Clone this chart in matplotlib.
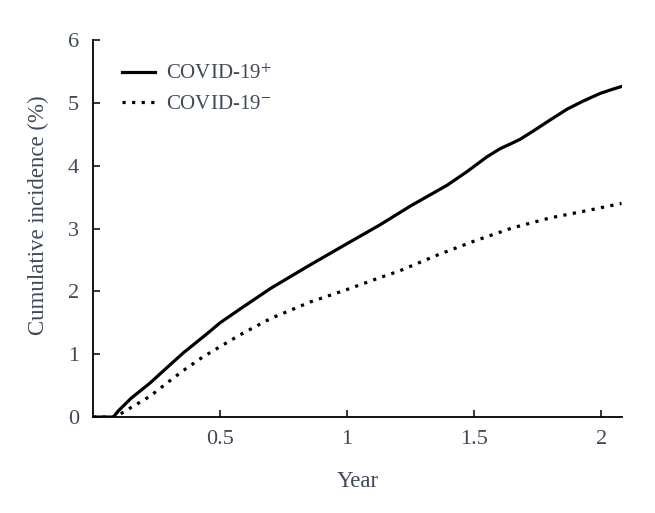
""" Cumulative incidence curves, COVID-19 positive vs negative. """

import matplotlib
matplotlib.use("Agg")
import matplotlib.pyplot as plt

plt.rcParams['font.family'] = ['Liberation Serif', 'DejaVu Serif']
plt.rcParams['mathtext.fontset'] = 'stix'

TEXT = '#404858'

# years since index, cumulative incidence (%)
pos_years = [0, 0.08, 0.1, 0.15, 0.224, 0.3, 0.355, 0.45, 0.5, 0.579, 0.7, 0.854,
             1.0, 1.13, 1.25, 1.394, 1.47, 1.55, 1.602, 1.65, 1.681, 1.732, 1.8,
             1.866, 1.93, 1.996, 2.04, 2.08]
pos_inc = [0, 0, 0.1, 0.3, 0.54, 0.82, 1.02, 1.33, 1.50, 1.72, 2.05, 2.42,
           2.76, 3.06, 3.36, 3.69, 3.90, 4.14, 4.27, 4.36, 4.42, 4.55, 4.73,
           4.90, 5.03, 5.15, 5.21, 5.26]

neg_years = [0, 0.09, 0.12, 0.17, 0.224, 0.3, 0.355, 0.43, 0.5, 0.579, 0.7,
             0.854, 1.0, 1.13, 1.209, 1.35, 1.5, 1.65, 1.8, 1.95, 2.08]
neg_inc = [0, 0, 0.08, 0.2, 0.33, 0.57, 0.74, 0.95, 1.12, 1.31, 1.57,
           1.83, 2.03, 2.22, 2.33, 2.57, 2.80, 3.01, 3.17, 3.29, 3.40]

x_ticks = [0.5, 1, 1.5, 2]
x_tick_labels = ['0.5', '1', '1.5', '2']
y_ticks = [0, 1, 2, 3, 4, 5, 6]

fig = plt.figure(figsize=(6.55, 5.13), dpi=100)
ax = fig.add_axes([0.142, 0.187, 0.808, 0.735])

ax.plot(pos_years, pos_inc, color='black', lw=2.3, label='COVID-19$^{+}$')
ax.plot(neg_years, neg_inc, color='black', lw=2.3, linestyle=(0, (1, 2)),
        label='COVID-19$^{-}$')

ax.set_xlim(0, 2.083)
ax.set_ylim(0, 6)
ax.set_xticks(x_ticks)
ax.set_xticklabels(x_tick_labels)
ax.set_yticks(y_ticks)

for side in ('top', 'right'):
    ax.spines[side].set_visible(False)
for side in ('left', 'bottom'):
    ax.spines[side].set_linewidth(1.3)

ax.tick_params(direction='in', length=5, width=1.1, labelsize=16,
               labelcolor=TEXT)
ax.tick_params(axis='x', pad=9)
ax.tick_params(axis='y', pad=10)
ax.set_xlabel('Year', fontsize=16.5, color=TEXT, labelpad=16)
ax.set_ylabel('Cumulative incidence (%)', fontsize=16.5, color=TEXT)
ax.yaxis.set_label_coords(-0.083, 0.535)

leg = ax.legend(loc='upper left', bbox_to_anchor=(0.055, 0.935), frameon=False,
                fontsize=15, handlelength=1.6, handletextpad=0.5,
                labelspacing=0.5, borderaxespad=0, borderpad=0)
for t in leg.get_texts():
    t.set_color(TEXT)

fig.savefig('out.png', dpi=100)
